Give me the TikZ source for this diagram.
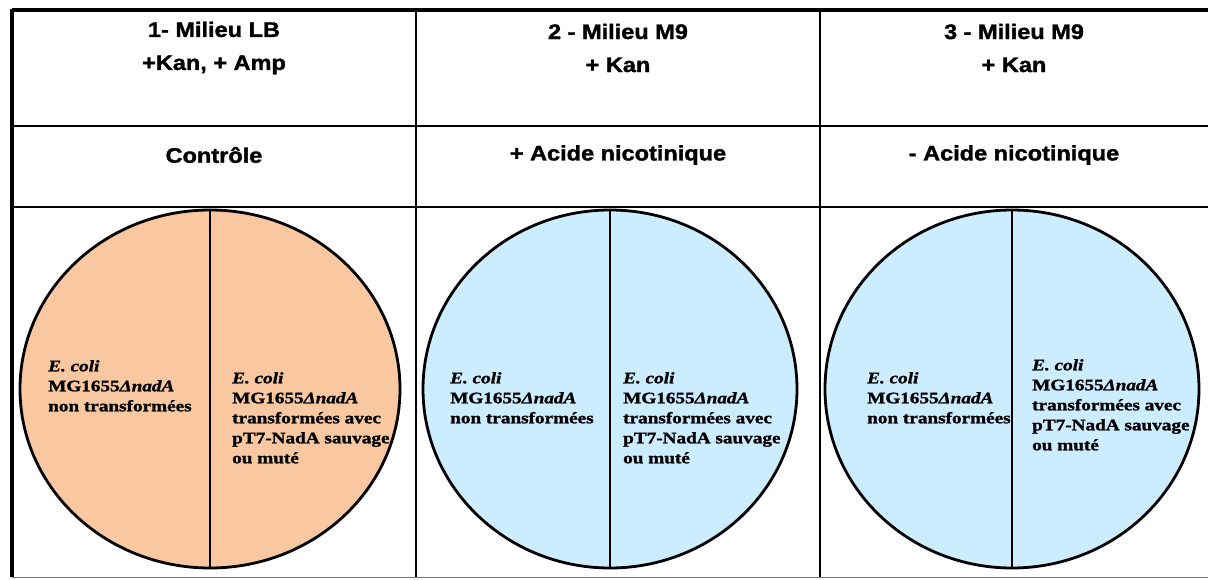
\documentclass[tikz,border=0pt]{standalone}
\usepackage{fontspec}
\setmainfont{Liberation Serif}
\newfontfamily\hdrfont[FakeStretch=1.12,FakeBold=1.6]{Liberation Sans}
\newfontfamily\platefont[FakeStretch=1.2,FakeBold=1.4]{Liberation Serif}
\usetikzlibrary{shapes.geometric,positioning,calc}
\definecolor{lbplate}{RGB}{250,200,160}
\definecolor{mnplate}{RGB}{204,236,255}
\tikzset{
  hdrtext/.style={align=center, inner sep=0pt, font=\hdrfont\bfseries\fontsize{21}{33}\selectfont},
  platebox/.style={ellipse, draw=black, line width=2.8pt, inner sep=0pt, minimum width=380pt, minimum height=358pt},
  strain/.style={anchor=north west, align=left, inner sep=0pt, font=\platefont\bfseries\fontsize{16}{20}\selectfont},
  gridline/.style={line width=2pt, black}
}

\begin{document}
\begin{tikzpicture}[x=1pt,y=-1pt]
  \useasboundingbox (0,0) rectangle (1208,579);
  \fill[white] (0,0) rectangle (1208,579);

  % table
  \coordinate (tl) at (12,10);
  \coordinate (tr) at (1208,10);
  \coordinate (bl) at (12,577);
  \coordinate (br) at (1208,577);
  \draw[gridline] (12,126) -- (1208,126);
  \draw[gridline] (12,207) -- (1208,207);
  \draw[gridline] (416,10) -- (416,577);
  \draw[gridline] (820,10) -- (820,577);
  \draw[line width=1pt, black!55] (bl) -- (br);
  \draw[line width=3.5pt] (tl) -- (tr);
  \draw[line width=4pt] ($(tl)+(0,-1.5)$) -- (bl);

  % headers
  \node[hdrtext] (milieu1) at (214,48) {1- Milieu LB\\+Kan, + Amp};
  \node[hdrtext] (milieu2) at (618,48) {2 - Milieu M9\\+ Kan};
  \node[hdrtext] (milieu3) at (1014,48) {3 - Milieu M9\\+ Kan};
  \node[hdrtext] (cond1) at (214,155) {Contrôle};
  \node[hdrtext] (cond2) at (618,155) {+ Acide nicotinique};
  \node[hdrtext] (cond3) at (1014,155) {- Acide nicotinique};

  % plates
  \node[platebox, fill=lbplate] (plate1) at (210,389) {};
  \node[platebox, fill=mnplate, minimum width=374pt] (plate2) at (610,389) {};
  \node[platebox, fill=mnplate, minimum width=374pt] (plate3) at (1012,389) {};
  \foreach \p in {plate1,plate2,plate3}
    \draw[gridline] (\p.north) -- (\p.south);

  % strains
  \node[strain] (nt1) at (48,360) {\textit{E. coli}\\MG1655\textit{ΔnadA}\\non transformées};
  \node[strain] (tr1) at (232,372) {\textit{E. coli}\\MG1655\textit{ΔnadA}\\transformées avec\\pT7-NadA sauvage\\ou muté};
  \node[strain] (nt2) at (450,372) {\textit{E. coli}\\MG1655\textit{ΔnadA}\\non transformées};
  \node[strain] (tr2) at (623,372) {\textit{E. coli}\\MG1655\textit{ΔnadA}\\transformées avec\\pT7-NadA sauvage\\ou muté};
  \node[strain] (nt3) at (867,372) {\textit{E. coli}\\MG1655\textit{ΔnadA}\\non transformées};
  \node[strain] (tr3) at (1032,359) {\textit{E. coli}\\MG1655\textit{ΔnadA}\\transformées avec\\pT7-NadA sauvage\\ou muté};
\end{tikzpicture}
\end{document}
